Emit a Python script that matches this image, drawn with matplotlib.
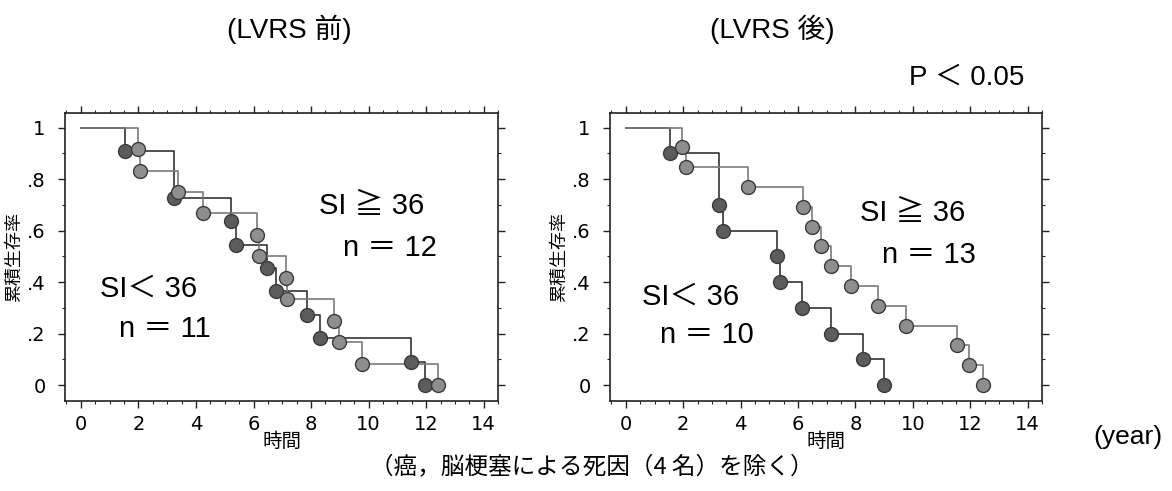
import matplotlib.pyplot as plt
import numpy as np
from matplotlib.ticker import MultipleLocator

plt.rcParams['font.family'] = ['Liberation Sans', 'Noto Sans CJK JP']

# death times in years for each group (SI < 36 / SI >= 36)
pre_low_times = [1.54, 3.25, 3.25, 5.23, 5.38, 6.48, 6.78, 7.86, 8.31, 11.49, 11.96]
pre_high_times = [2.0, 2.07, 3.39, 4.26, 6.13, 6.19, 7.12, 7.17, 8.81, 8.98, 9.76, 12.42]
post_low_times = [1.54, 3.26, 3.26, 3.40, 5.25, 5.38, 6.14, 7.14, 8.26, 8.98]
post_high_times = [1.95, 2.09, 4.25, 6.19, 6.50, 6.81, 7.14, 7.86, 8.79, 9.77, 11.53, 11.94, 12.44]

xtick_vals = [0, 2, 4, 6, 8, 10, 12, 14]
ytick_vals = [0, 0.2, 0.4, 0.6, 0.8, 1.0]
ytick_labels = ['0', '.2', '.4', '.6', '.8', '1']

DARK_LINE = '#333333'
GRAY_LINE = '#7a7a7a'
DARK_FILL = '#5c5c5c'
GRAY_FILL = '#8e8e8e'

TICK_FONT = ['Liberation Sans Narrow', 'DejaVu Sans']
CJK = ['Noto Sans CJK JP']
BIG = ['Liberation Sans', 'Noto Sans CJK JP']


def kaplan_meier(times):
    t = np.sort(np.asarray(times, dtype=float))
    ut, counts = np.unique(t, return_counts=True)
    at_risk = len(t) - np.concatenate([[0], np.cumsum(counts)[:-1]])
    surv = np.cumprod(1 - counts / at_risk)
    return ut, surv


def draw_curve(ax, times, line_color, face_color):
    ut, surv = kaplan_meier(times)
    xs = np.concatenate([[0], ut])
    ys = np.concatenate([[1], surv])
    ax.step(xs, ys, where='post', color=line_color, lw=1.2, zorder=2)
    ax.plot(ut, surv, 'o', ms=10, mfc=face_color, mec='#3a3a3a', mew=1.0, zorder=3)


def style_axes(ax):
    ax.set_xlim(-0.55, 14.5)
    ax.set_ylim(-0.062, 1.057)
    ax.xaxis.set_minor_locator(MultipleLocator(0.5))
    ax.yaxis.set_minor_locator(MultipleLocator(0.1))
    ax.set_xticks(xtick_vals)
    ax.set_xticklabels([str(v) for v in xtick_vals], family=TICK_FONT, fontsize=14)
    ax.set_yticks(ytick_vals)
    ax.set_yticklabels(ytick_labels, family=TICK_FONT, fontsize=14)
    ax.tick_params(which='both', direction='out', top=True, right=True,
                   labeltop=False, labelright=False, color='#222222')
    ax.tick_params(which='major', length=5, width=1.0)
    ax.tick_params(which='minor', length=2.5, width=0.8)
    ax.tick_params(axis='y', pad=9)
    ax.tick_params(axis='x', pad=5)
    for sp in ax.spines.values():
        sp.set_linewidth(1.2)
        sp.set_color('#222222')
    ax.set_xlabel('時間', family=CJK, fontsize=14, labelpad=-2)
    ax.set_ylabel('累積生存率', family=CJK, fontsize=13, labelpad=3)


fig = plt.figure(figsize=(11.72, 4.91), dpi=100)
ax1 = fig.add_axes([0.0555, 0.1833, 0.3695, 0.5866])
ax2 = fig.add_axes([0.5205, 0.1833, 0.3686, 0.5866])

draw_curve(ax1, pre_low_times, DARK_LINE, DARK_FILL)
draw_curve(ax1, pre_high_times, GRAY_LINE, GRAY_FILL)
draw_curve(ax2, post_low_times, DARK_LINE, DARK_FILL)
draw_curve(ax2, post_high_times, GRAY_LINE, GRAY_FILL)

for ax in (ax1, ax2):
    style_axes(ax)

# group annotations
ax1.text(10.1, 0.696, 'SI ≧ 36', family=BIG, fontsize=21, ha='center', va='center')
ax1.text(10.74, 0.532, 'n ＝ 12', family=BIG, fontsize=21, ha='center', va='center')
ax1.text(2.34, 0.373, 'SI＜ 36', family=BIG, fontsize=21, ha='center', va='center')
ax1.text(2.93, 0.217, 'n ＝ 11', family=BIG, fontsize=21, ha='center', va='center')

ax2.text(9.98, 0.668, 'SI ≧ 36', family=BIG, fontsize=21, ha='center', va='center')
ax2.text(10.57, 0.505, 'n ＝ 13', family=BIG, fontsize=21, ha='center', va='center')
ax2.text(2.24, 0.342, 'SI＜ 36', family=BIG, fontsize=21, ha='center', va='center')
ax2.text(2.83, 0.194, 'n ＝ 10', family=BIG, fontsize=21, ha='center', va='center')

fig.text(289 / 1172, 1 - 29 / 491, '(LVRS 前)', family=BIG, fontsize=20, ha='center', va='center')
fig.text(772 / 1172, 1 - 29 / 491, '(LVRS 後)', family=BIG, fontsize=20, ha='center', va='center')
fig.text(1024 / 1172, 1 - 78 / 491, 'P ＜ 0.05', family=BIG, fontsize=20, ha='right', va='center')
fig.text(1128 / 1172, 1 - 437 / 491, '(year)', family=BIG, fontsize=19, ha='center', va='center')
fig.text(592 / 1172, 1 - 467 / 491, '（癌，脳梗塞による死因（4 名）を除く）', family=CJK,
         fontsize=17, ha='center', va='center')

fig.savefig('out.png', dpi=100, facecolor='white')
